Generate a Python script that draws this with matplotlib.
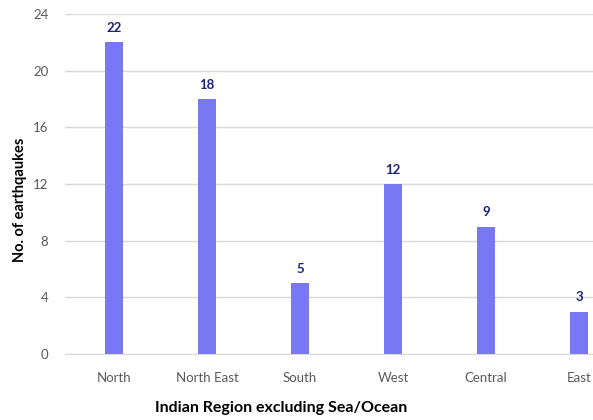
import matplotlib
matplotlib.use("Agg")
import matplotlib.pyplot as plt

categories = ["North", "North East", "South", "West", "Central", "East"]
values = [22, 18, 5, 12, 9, 3]
yticks = [0, 4, 8, 12, 16, 20, 24]

plt.rcParams['font.family'] = ['Lato', 'DejaVu Sans']

W, H = 593, 420
fig = plt.figure(figsize=(W / 100, H / 100), dpi=100)
left, right, top, bottom = 65, 628, 14, 354
ax = fig.add_axes([left / W, 1 - bottom / H, (right - left) / W, (bottom - top) / H])

x = list(range(len(categories)))
ax.bar(x, values, width=0.19, color="#7878f4", zorder=3)
for xi, v in zip(x, values):
    ax.annotate(str(v), (xi, v), xytext=(0, 6), textcoords="offset points",
                ha="center", va="bottom", fontsize=9.5, fontweight="bold",
                color="#1c237a")

ax.set_xlim(-0.527, 5.527)
ax.set_ylim(0, 24)
ax.set_yticks(yticks)
ax.set_xticks(x)
ax.set_xticklabels(categories)
ax.yaxis.grid(True, color="#d9d9d9", linewidth=1, zorder=0)
for s in ["top", "right", "left"]:
    ax.spines[s].set_visible(False)
ax.spines["bottom"].set_color("#d9d9d9")
ax.tick_params(axis="both", length=0, colors="#595959", labelsize=9.5)
ax.tick_params(axis="x", pad=13)
ax.tick_params(axis="y", pad=12)

fig.text(20 / W, 1 - 200 / H, "No. of earthqaukes", ha="center", va="center", rotation=90,
         fontsize=10.5, fontweight="bold", color="#000000")
fig.text(281 / W, 1 - 408 / H, "Indian Region excluding Sea/Ocean", ha="center", va="center",
         fontsize=11.5, fontweight="bold", color="#000000")

fig.savefig("out.png", dpi=100, facecolor="white")
